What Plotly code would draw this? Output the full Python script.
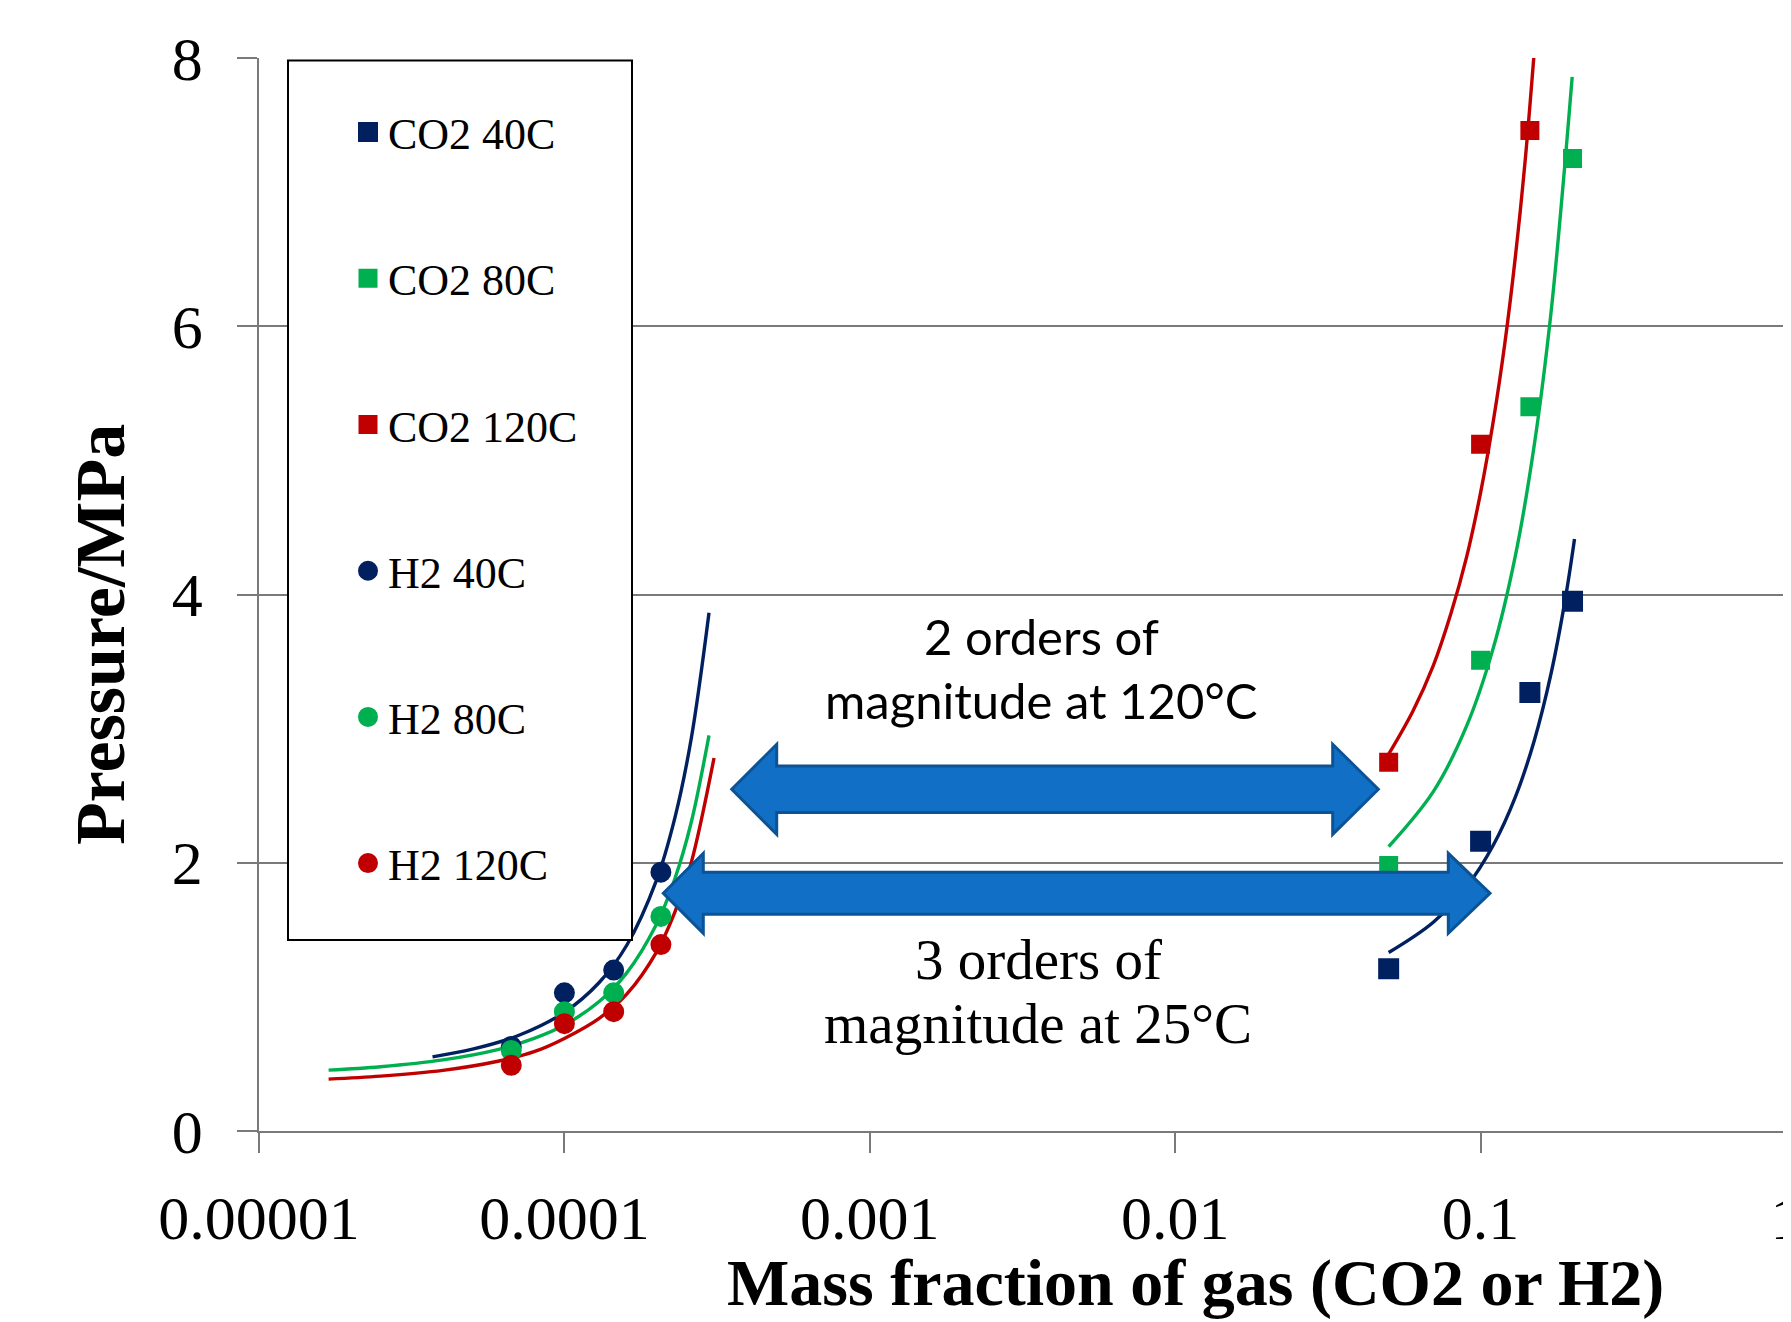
import plotly.graph_objects as go

# ---------------- data ----------------
h2_x = [6.7e-5, 1.0e-4, 1.45e-4, 2.07e-4]
h2_40C = [0.63, 1.03, 1.20, 1.93]
h2_80C = [0.60, 0.89, 1.03, 1.60]
h2_120C = [0.49, 0.80, 0.89, 1.39]

co2_x = [0.05, 0.10, 0.145, 0.20]
co2_40C = [1.21, 2.16, 3.27, 3.95]
co2_80C = [1.98, 3.51, 5.40, 7.25]
co2_120C_x = [0.05, 0.10, 0.145]
co2_120C = [2.75, 5.12, 7.46]

# trend lines
h2_40C_trend_x = [3.7e-5, 5e-5, 7e-5, 1e-4, 1.3e-4, 1.6e-4, 2e-4, 2.3e-4, 2.6e-4, 2.975e-4]
h2_40C_trend_y = [0.553, 0.610, 0.708, 0.885, 1.107, 1.385, 1.867, 2.335, 2.921, 3.864]
h2_80C_trend_x = [1.69e-5, 2.5e-5, 4e-5, 6e-5, 8e-5, 1e-4, 1.3e-4, 1.6e-4, 2e-4, 2.3e-4, 2.6e-4, 2.975e-4]
h2_80C_trend_y = [0.454, 0.479, 0.530, 0.605, 0.692, 0.790, 0.965, 1.179, 1.540, 1.881, 2.298, 2.950]
h2_120C_trend_x = [1.69e-5, 2.5e-5, 4e-5, 6e-5, 8e-5, 1e-4, 1.3e-4, 1.6e-4, 2e-4, 2.3e-4, 2.6e-4, 3.09e-4]
h2_120C_trend_y = [0.387, 0.409, 0.452, 0.518, 0.593, 0.690, 0.840, 1.020, 1.332, 1.631, 1.997, 2.781]

co2_40C_trend_x = [0.05, 0.07, 0.09, 0.11, 0.13, 0.15, 0.17, 0.19, 0.203]
co2_40C_trend_y = [1.331, 1.557, 1.821, 2.130, 2.491, 2.914, 3.408, 3.986, 4.413]
co2_80C_trend_x = [0.05, 0.07, 0.09, 0.11, 0.13, 0.15, 0.17, 0.19, 0.1995]
co2_80C_trend_y = [2.12, 2.53, 3.02, 3.60, 4.29, 5.12, 6.10, 7.28, 7.86]
co2_120C_trend_x = [0.05, 0.06, 0.07, 0.08, 0.09, 0.10, 0.11, 0.12, 0.13, 0.14, 0.15]
co2_120C_trend_y = [2.81, 3.13, 3.47, 3.86, 4.28, 4.76, 5.29, 5.87, 6.52, 7.24, 8.06]

x_tickvals = [1e-5, 1e-4, 1e-3, 1e-2, 1e-1, 1]
x_ticktext = ["0.00001", "0.0001", "0.001", "0.01", "0.1", "1"]
y_tickvals = [0, 2, 4, 6, 8]

NAVY, GREEN, RED = "#002060", "#00B050", "#C00000"
SERIF = "Liberation Serif"

# ---------------- layout geometry ----------------
# the page body has an 8px margin, so the figure starts at (8, 8) of the window
OFF = 8
W, H = 1791 - OFF, 1322 - OFF
L, T = 259 - OFF, 58 - OFF
R = W - (1786 - OFF)
B = H - (1131 - OFF)
PW, PH = W - L - R, H - T - B


def px2x(px):          # window pixel -> paper x
    return (px - OFF - L) / PW


def py2y(py):          # window pixel -> paper y
    return (H - B - (py - OFF)) / PH


fig = go.Figure()

trends = [
    (co2_40C_trend_x, co2_40C_trend_y, NAVY),
    (co2_80C_trend_x, co2_80C_trend_y, GREEN),
    (co2_120C_trend_x, co2_120C_trend_y, RED),
    (h2_40C_trend_x, h2_40C_trend_y, NAVY),
    (h2_80C_trend_x, h2_80C_trend_y, GREEN),
    (h2_120C_trend_x, h2_120C_trend_y, RED),
]
for tx, ty, c in trends:
    fig.add_trace(go.Scatter(x=tx, y=ty, mode="lines",
                             line=dict(color=c, width=3.4, shape="spline"),
                             showlegend=False, hoverinfo="skip"))

series = [
    ("CO2 40C", co2_x, co2_40C, NAVY, "square", 17),
    ("CO2 80C", co2_x, co2_80C, GREEN, "square", 15),
    ("CO2 120C", co2_120C_x, co2_120C, RED, "square", 15),
    ("H2 40C", h2_x, h2_40C, NAVY, "circle", 17),
    ("H2 80C", h2_x, h2_80C, GREEN, "circle", 17),
    ("H2 120C", h2_x, h2_120C, RED, "circle", 17),
]
for i, (name, sx, sy, c, sym, sz) in enumerate(series):
    fig.add_trace(go.Scatter(x=sx, y=sy, mode="markers", name=name,
                             legendgroup=f"g{i}",
                             marker=dict(color=c, symbol=sym, size=sz,
                                         line=dict(width=4, color=c))))


def arrow_path(xl, xr, yc, head_l, head_r, hh, sh):
    pts = [
        (xl, yc), (xl + head_l, yc - hh), (xl + head_l, yc - sh),
        (xr - head_r, yc - sh), (xr - head_r, yc - hh), (xr, yc),
        (xr - head_r, yc + hh), (xr - head_r, yc + sh),
        (xl + head_l, yc + sh), (xl + head_l, yc + hh),
    ]
    return "M " + " L ".join(f"{px2x(a):.5f},{py2y(b):.5f}" for a, b in pts) + " Z"


ARROW_FILL, ARROW_LINE = "#1170C6", "#0C5396"
shapes = [
    # legend frame
    dict(type="rect", xref="paper", yref="paper",
         x0=px2x(288), x1=px2x(632), y0=py2y(940), y1=py2y(60.5),
         fillcolor="white", line=dict(color="black", width=2), layer="above"),
    # upper double arrow
    dict(type="path", xref="paper", yref="paper",
         path=arrow_path(731.7, 1378.3, 789.3, 45, 45.6, 45, 23.3),
         fillcolor=ARROW_FILL, line=dict(color=ARROW_LINE, width=3), layer="above"),
    # lower double arrow
    dict(type="path", xref="paper", yref="paper",
         path=arrow_path(663.3, 1490, 893.3, 40, 41.7, 40, 21),
         fillcolor=ARROW_FILL, line=dict(color=ARROW_LINE, width=3), layer="above"),
]


def label(text, px, py, family, size, angle=0):
    return dict(text=text, xref="paper", yref="paper", x=px2x(px), y=py2y(py),
                xanchor="center", yanchor="middle", showarrow=False,
                textangle=angle, font=dict(family=family, size=size, color="black"))


annotations = [
    label("2 orders of", 1041, 636, "Lato", 49),
    label("magnitude at 120°C", 1041, 700, "Lato", 49),
    label("3 orders of", 1038, 959, SERIF, 57),
    label("magnitude at 25°C", 1038, 1023, SERIF, 57),
    label("<b>Mass fraction of gas (CO2 or H2)</b>", 1195, 1283, SERIF, 66),
    label("<b>Pressure/MPa</b>", 101, 635, SERIF, 70, angle=-90),
]

AXC = "#7a7a7a"
fig.update_layout(
    width=W, height=H,
    margin=dict(l=L, r=R, t=T, b=B, pad=0),
    paper_bgcolor="white", plot_bgcolor="white",
    showlegend=True,
    legend=dict(x=px2x(348), y=py2y(498), xanchor="left", yanchor="middle",
                font=dict(family=SERIF, size=44, color="black"),
                tracegroupgap=86, bgcolor="rgba(0,0,0,0)", borderwidth=0,
                itemsizing="trace"),
    xaxis=dict(type="log", range=[-5, 0], tickvals=x_tickvals, ticktext=x_ticktext,
               showgrid=False, zeroline=False, showline=True, linecolor=AXC,
               linewidth=1.5, ticks="outside", ticklen=20, tickwidth=1.5,
               tickcolor=AXC, ticklabelstandoff=12, automargin=False,
               ticklabeloverflow="allow",
               tickfont=dict(family=SERIF, size=62, color="black")),
    yaxis=dict(range=[0, 8], tickvals=y_tickvals, showgrid=True, gridcolor=AXC,
               gridwidth=1.5, zeroline=False, showline=True, linecolor=AXC,
               linewidth=1.5, ticks="outside", ticklen=20, tickwidth=1.5,
               tickcolor=AXC, ticklabelstandoff=22, automargin=False,
               tickfont=dict(family=SERIF, size=62, color="black")),
    shapes=shapes,
    annotations=annotations,
)

fig.write_html("out.html")
